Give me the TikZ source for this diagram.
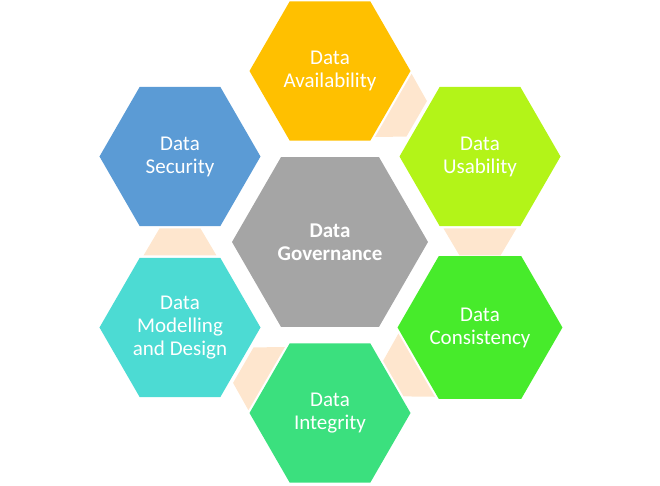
\documentclass[tikz,border=0pt]{standalone}
\usepackage{fontspec}
\setmainfont{Carlito}
\usetikzlibrary{shapes.geometric}
\definecolor{cgold}{HTML}{FFC000}
\definecolor{clime}{HTML}{B3F418}
\definecolor{cgreen}{HTML}{47EB2B}
\definecolor{cmint}{HTML}{3BE07E}
\definecolor{cteal}{HTML}{4CDBD3}
\definecolor{cblue}{HTML}{5B9BD5}
\definecolor{cgray}{HTML}{A5A5A5}
\definecolor{peach}{HTML}{FEE6CE}
\begin{document}
\begin{tikzpicture}[x=1pt,y=1pt,
  hexbox/.style={regular polygon, regular polygon sides=6, inner sep=0pt, outer sep=0pt,
    minimum size=161pt, text=white, align=center, draw=none,
    font=\fontsize{21}{23}\selectfont},
  bigbox/.style={hexbox, minimum size=196pt, font=\fontsize{21}{23}\selectfont\bfseries},
  linkpiece/.style={fill=peach}]
\useasboundingbox (-330,-244) rectangle (330,242);
\foreach \a in {60,0,-60,-120,180}{
  \fill[linkpiece, rotate=\a] (113.5,13.5) -- (186.5,13.5) -- (170.5,-13.5) -- (129.5,-13.5) -- cycle;
}
\node[bigbox, fill=cgray] (gov) at (0,0) {Data\\Governance};
\node[hexbox, fill=cgold] (avail) at (0,171) {Data\\Availability};
\node[hexbox, fill=clime] (usab) at (150,85.5) {Data\\Usability};
\node[hexbox, fill=cgreen] (cons) at (150,-85.5) {Data\\Consistency};
\node[hexbox, fill=cmint] (integ) at (0,-171) {Data\\Integrity};
\node[hexbox, fill=cteal] (model) at (-150,-85.5) {Data\\Modelling\\and Design};
\node[hexbox, fill=cblue] (sec) at (-150,85.5) {Data\\Security};
\end{tikzpicture}
\end{document}
